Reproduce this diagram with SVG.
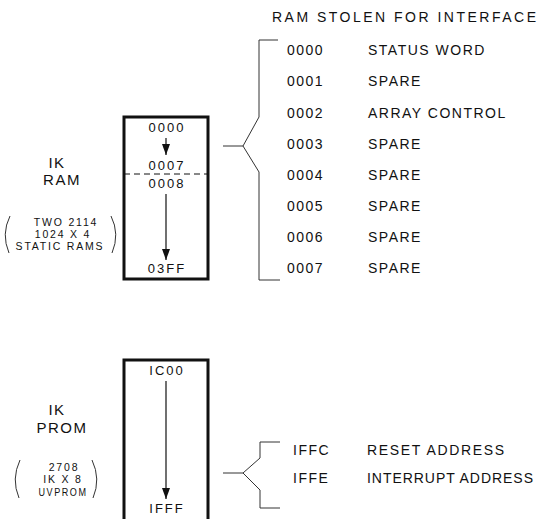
<svg xmlns="http://www.w3.org/2000/svg" width="541" height="519" viewBox="0 0 541 519">
<defs>
<marker id="ah" markerWidth="11" markerHeight="8" refX="11" refY="4" orient="auto" markerUnits="userSpaceOnUse" viewBox="0 0 11 8">
<path d="M0,0 L11,4 L0,8 Z" fill="#111"/>
</marker>
</defs>
<style>
text{font-family:"Liberation Sans",Arial,sans-serif;fill:#111;}
.t{font-size:14px;letter-spacing:1.5px;}
.fit{letter-spacing:0px;}
.m{font-size:13px;letter-spacing:2px;text-anchor:middle;}
.lab{font-size:15px;letter-spacing:1.5px;text-anchor:middle;}
.sm{font-size:10.5px;letter-spacing:1.8px;text-anchor:middle;}
.box{fill:none;stroke:#111;stroke-width:3;}
.ln{fill:none;stroke:#333;stroke-width:1;}
.arr{stroke:#111;stroke-width:1.2;marker-end:url(#ah);}
</style>
<rect width="541" height="519" fill="#fff"/>

<g id="ram">
<path class="box" d="M124,117 H208 V279 H124 Z"/>
<line x1="124" y1="174" x2="208" y2="174" stroke="#111" stroke-width="1" stroke-dasharray="6,4"/>
<text class="m" x="167" y="132">0000</text>
<line class="arr" x1="166" y1="138" x2="166" y2="155"/>
<text class="m" x="167" y="170">0007</text>
<text class="m" x="167" y="188">0008</text>
<line class="arr" x1="166" y1="194" x2="166" y2="260"/>
<text class="m" x="167" y="273">03FF</text>
</g>

<g id="ram-label">
<text class="lab" x="57" y="168">IK</text>
<text class="lab" x="62" y="185">RAM</text>
<text class="sm" x="66" y="226">TWO 2114</text>
<text class="sm" x="63" y="238">1024 X 4</text>
<text class="sm" x="60" y="250">STATIC RAMS</text>
<path class="ln" d="M10,216 Q1,234 9,253"/>
<path class="ln" d="M111,216 Q120,234 112,253"/>
</g>

<g id="prom">
<path class="box" d="M124,521 V360 H208 V521"/>
<text class="m" x="167" y="375">IC00</text>
<line class="arr" x1="166" y1="381" x2="166" y2="499"/>
<text class="m" x="167" y="513">IFFF</text>
</g>

<g id="prom-label">
<text class="lab" x="57" y="415">IK</text>
<text class="lab" x="62" y="433">PROM</text>
<text class="sm" x="64" y="471">2708</text>
<text class="sm" x="63" y="483">IK X 8</text>
<text class="sm" x="63" y="496" textLength="49" lengthAdjust="spacingAndGlyphs">UVPROM</text>
<path class="ln" d="M20,460 Q11,479 19,498"/>
<path class="ln" d="M92,460 Q101,479 93,498"/>
</g>

<g id="ram-table">
<text class="t fit" x="272" y="22" textLength="264" lengthAdjust="spacing">RAM STOLEN FOR INTERFACE</text>
<text class="t" x="287" y="55">0000</text><text class="t" x="368" y="55">STATUS WORD</text>
<text class="t" x="287" y="86">0001</text><text class="t" x="368" y="86">SPARE</text>
<text class="t" x="287" y="118">0002</text><text class="t" x="368" y="118">ARRAY CONTROL</text>
<text class="t" x="287" y="149">0003</text><text class="t" x="368" y="149">SPARE</text>
<text class="t" x="287" y="180">0004</text><text class="t" x="368" y="180">SPARE</text>
<text class="t" x="287" y="211">0005</text><text class="t" x="368" y="211">SPARE</text>
<text class="t" x="287" y="242">0006</text><text class="t" x="368" y="242">SPARE</text>
<text class="t" x="287" y="273">0007</text><text class="t" x="368" y="273">SPARE</text>
</g>

<g id="prom-table">
<text class="t" x="293" y="455">IFFC</text><text class="t fit" x="367" y="455" textLength="137" lengthAdjust="spacing">RESET ADDRESS</text>
<text class="t" x="293" y="483">IFFE</text><text class="t fit" x="367" y="483" textLength="166" lengthAdjust="spacing">INTERRUPT ADDRESS</text>
</g>

<g id="connectors">
<path class="ln" d="M223,146 H243"/>
<path class="ln" d="M278,40 H259 V117 L243,146 L259,172 V280 H280"/>
<path class="ln" d="M223,473 H243"/>
<path class="ln" d="M280,442 H260 V458 L243,473 L260,490 V508 H280"/>
</g>
</svg>
